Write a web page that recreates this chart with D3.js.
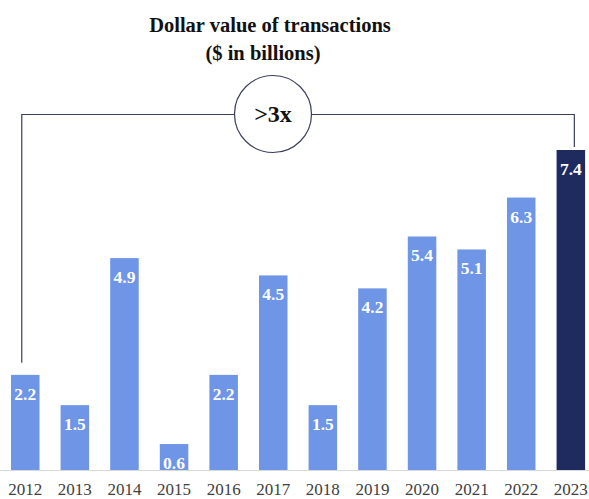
<!DOCTYPE html>
<html>
<head>
<meta charset="utf-8">
<script src="https://cdn.jsdelivr.net/npm/d3@7/dist/d3.min.js"></script>
<style>
  html, body { margin: 0; padding: 0; background: #ffffff; }
  svg { display: block; }
</style>
</head>
<body>
<svg id="chart" width="589" height="499"></svg>
<script>
const years = ["2012","2013","2014","2015","2016","2017","2018","2019","2020","2021","2022","2023"];
const values = [2.2, 1.5, 4.9, 0.6, 2.2, 4.5, 1.5, 4.2, 5.4, 5.1, 6.3, 7.4];
const labels = ["2.2","1.5","4.9","0.6","2.2","4.5","1.5","4.2","5.4","5.1","6.3","7.4"];
const titleLines = ["Dollar value of transactions", "($ in billions)"];
const growthLabel = ">3x";

const W = 589, H = 499;
const serif = "'Liberation Serif', 'Times New Roman', serif";
const svg = d3.select("#chart");

const x = d3.scaleBand().domain(years).range([11, 585.1]).paddingInner(0.425).paddingOuter(0);
const y = d3.scaleLinear().domain([0, 7.4]).range([470, 150]);

// baseline
svg.append("line")
  .attr("x1", 0).attr("x2", W)
  .attr("y1", y(0) + 0.5).attr("y2", y(0) + 0.5)
  .attr("stroke", "#d9d9d9").attr("stroke-width", 1);

// bars
svg.selectAll("rect.bar").data(values).enter().append("rect")
  .attr("class", "bar")
  .attr("x", (d, i) => x(years[i]))
  .attr("y", d => y(d))
  .attr("width", x.bandwidth())
  .attr("height", d => y(0) - y(d))
  .attr("fill", (d, i) => i === years.length - 1 ? "#1f2a5e" : "#6e95e6");

// value labels
svg.selectAll("text.val").data(values).enter().append("text")
  .attr("class", "val")
  .attr("x", (d, i) => x(years[i]) + x.bandwidth() / 2)
  .attr("y", d => y(d) + 25)
  .attr("text-anchor", "middle")
  .attr("font-family", serif)
  .attr("font-weight", "bold")
  .attr("font-size", 17.5)
  .attr("fill", "#ffffff")
  .text((d, i) => labels[i]);

// x axis labels
const xAxis = d3.axisBottom(x).tickSize(0).tickPadding(0);
const gx = svg.append("g").attr("transform", `translate(0, ${y(0)})`).call(xAxis);
gx.select(".domain").remove();
gx.selectAll("text")
  .attr("y", 25)
  .attr("dy", 0)
  .attr("font-family", serif)
  .attr("font-size", 17)
  .attr("fill", "#404040");

// title
svg.append("text")
  .attr("x", 270).attr("y", 32)
  .attr("text-anchor", "middle")
  .attr("font-family", serif).attr("font-weight", "bold").attr("font-size", 20.5)
  .attr("fill", "#111")
  .text(titleLines[0]);
svg.append("text")
  .attr("x", 263).attr("y", 60)
  .attr("text-anchor", "middle")
  .attr("font-family", serif).attr("font-weight", "bold").attr("font-size", 20.5)
  .attr("fill", "#111")
  .text(titleLines[1]);

// connector bracket
const first = years[0], last = years[years.length - 1];
const lx = x(first) + x.bandwidth() / 2 - 3.5;
const rx = x(last) + x.bandwidth() / 2 + 3.5;
const topY = 114.5;
const cx = 273, cy = 114, r = 38.5;
const lineColor = "#3a3f5c";
svg.append("path")
  .attr("d", `M${lx},${y(values[0]) - 12} V${topY} H${cx - r}`)
  .attr("fill", "none").attr("stroke", lineColor).attr("stroke-width", 1.2);
svg.append("path")
  .attr("d", `M${cx + r},${topY} H${rx} V${y(values[values.length - 1]) - 3}`)
  .attr("fill", "none").attr("stroke", lineColor).attr("stroke-width", 1.2);
svg.append("circle")
  .attr("cx", cx).attr("cy", cy).attr("r", r)
  .attr("fill", "#ffffff").attr("stroke", lineColor).attr("stroke-width", 1.2);
svg.append("text")
  .attr("x", cx).attr("y", cy + 8)
  .attr("text-anchor", "middle")
  .attr("font-family", serif).attr("font-weight", "bold").attr("font-size", 24)
  .attr("fill", "#111")
  .text(growthLabel);
</script>
</body>
</html>
